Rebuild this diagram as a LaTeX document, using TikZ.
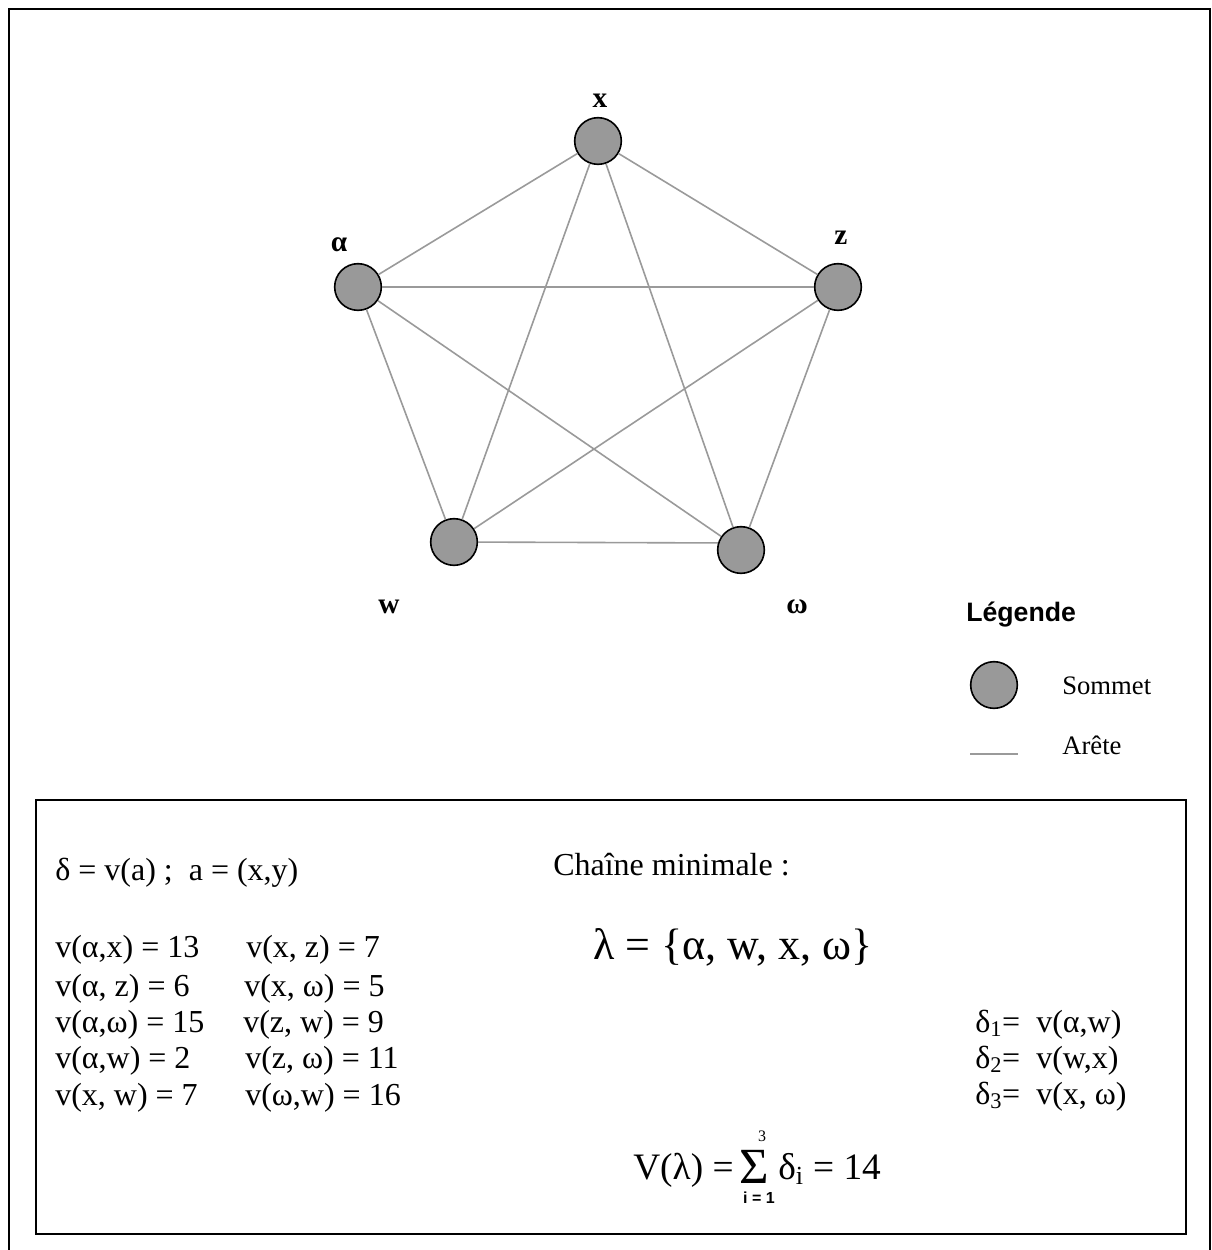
\documentclass[tikz,border=0pt]{standalone}
\usepackage{fontspec}
\setmainfont{Liberation Serif}
\setsansfont{Liberation Sans}
\definecolor{vgray}{HTML}{999999}
\definecolor{egray}{HTML}{9A9A9A}
\begin{document}
\begin{tikzpicture}[x=0.75pt,y=-0.75pt,
  vert/.style={circle,fill=vgray,draw=black,line width=1.2pt,minimum size=35pt,inner sep=0pt},
  edge/.style={draw=egray,line width=1.2pt},
  vlabel/.style={font=\fontsize{22}{25}\selectfont\bfseries,inner sep=0pt},
  body/.style={font=\fontsize{24}{27}\selectfont,inner sep=0pt,anchor=base west},
  big/.style={font=\fontsize{28}{32}\selectfont,inner sep=0pt,anchor=base west},
  frame/.style={draw=black,line width=1.5pt}]
\useasboundingbox (0,0) rectangle (1212,1250);
% outer frame (open at bottom)
\draw[frame] (9,1252) -- (9,9) -- (1210,9) -- (1210,1252);
% inner box
\draw[frame] (36,800) rectangle (1186,1234);

% vertices
\node[vert] (x) at (598,141) {};
\node[vert] (a) at (358,287) {};
\node[vert] (z) at (838,287) {};
\node[vert] (w) at (454,542) {};
\node[vert] (o) at (741,550) {};
% edges
\draw[edge] (x) -- (a);
\draw[edge] (x) -- (z);
\draw[edge] (x) -- (w);
\draw[edge] (x) -- (o);
\draw[edge] (a) -- (z);
\draw[edge] (a) -- (w);
\draw[edge] (a) -- (o);
\draw[edge] (z) -- (w);
\draw[edge] (z) -- (o);
\draw[edge] (w) -- (o.163);
% vertex labels
\node[vlabel] (lx) at (600,101) {x};
\node[vlabel] (la) at (339,245) {α};
\node[vlabel] (lz) at (841,238) {z};
\node[vlabel] (lw) at (389,607) {w};
\node[vlabel] (lo) at (797,607) {ω};

% legend
\node[font=\fontsize{20}{23}\selectfont\sffamily\bfseries,inner sep=0pt,anchor=base west] (leg) at (966,621) {Légende};
\node[vert] (legv) at (994,685) {};
\node[font=\fontsize{20}{23}\selectfont,inner sep=0pt,anchor=base west] (som) at (1062,694) {Sommet};
\coordinate (le1) at (970,754);
\coordinate (le2) at (1018,754);
\draw[edge] (le1) -- (le2);
\node[font=\fontsize{20}{23}\selectfont,inner sep=0pt,anchor=base west] (are) at (1062,754) {Arête};

% box content
\node[body] (def) at (55,880) {δ = v(a) ;\ \ a = (x,y)};
\node[body] (r1a) at (55,957) {v(α,x) = 13};
\node[body] (r2a) at (55,996) {v(α, z) = 6};
\node[body] (r3a) at (55,1032) {v(α,ω) = 15};
\node[body] (r4a) at (55,1068) {v(α,w) = 2};
\node[body] (r5a) at (55,1105) {v(x, w) = 7};
\node[body] (r1b) at (246,957) {v(x, z) = 7};
\node[body] (r2b) at (244,996) {v(x, ω) = 5};
\node[body] (r3b) at (243,1032) {v(z, w) = 9};
\node[body] (r4b) at (245,1068) {v(z, ω) = 11};
\node[body] (r5b) at (245,1105) {v(ω,w) = 16};

\node[body] (ch) at (553,875) {Chaîne minimale :};
\node[big,font=\fontsize{33}{37}\selectfont] (lam) at (593,959) {λ = \{α, w, x, ω\}};

\node[body] (d1) at (975,1032) {δ\textsubscript{1}=\ \ v(α,w)};
\node[body] (d2) at (975,1068) {δ\textsubscript{2}=\ \ v(w,x)};
\node[body] (d3) at (975,1104) {δ\textsubscript{3}=\ \ v(x, ω)};

\node[big] (vl) at (633,1179) {V(λ) =};
\node[big,font=\fontsize{38}{40}\selectfont,text height=24pt,text depth=0pt] (sig) at (739,1183) {Σ};
\node[big] (rest) at (778,1179) {δ\textsubscript{i} = 14};
\node[font=\fontsize{12}{14}\selectfont,inner sep=0pt] (sup3) at (762,1136) {3};
\node[font=\fontsize{12}{14}\selectfont\sffamily\bfseries,inner sep=0pt,text height=7pt,text depth=0pt] (sub1) at (759,1199) {i = 1};
\end{tikzpicture}
\end{document}
